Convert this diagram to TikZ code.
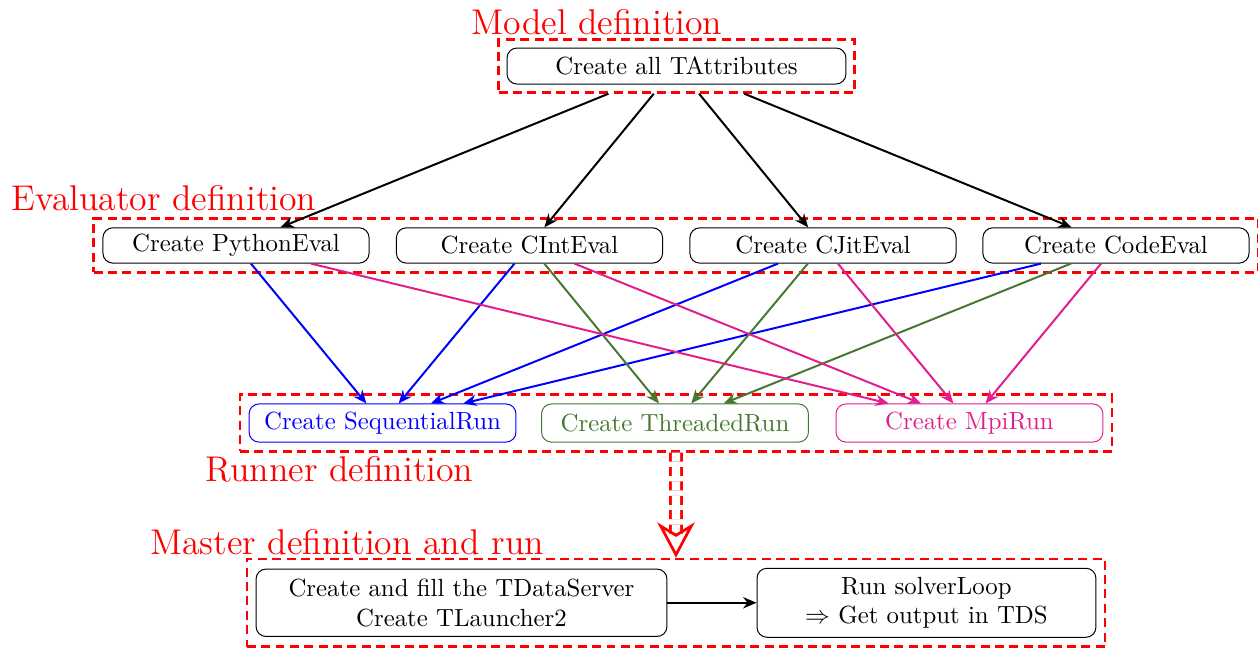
\documentclass[tikz,border=0pt]{standalone}
\usepackage{tikz}
\usetikzlibrary{positioning,arrows.meta,fit}
\definecolor{thrgreen}{RGB}{70,120,50}
\definecolor{mpipink}{RGB}{225,30,140}
\tikzset{
  evl/.style={draw,rounded corners,align=center,minimum width=3.77cm,minimum height=0.5cm,inner sep=2pt},
  rnr/.style={draw,rounded corners,align=center,minimum width=3.78cm,minimum height=0.54cm,inner sep=2pt},
  frm/.style={draw=red,line width=1pt,dash pattern=on 3.6pt off 2.2pt,inner sep=0.125cm},
  lbl/.style={text=red,font=\Large,anchor=base,inner sep=0pt},
  arr/.style={-{Stealth[length=1.9mm,width=1.6mm]},thick},
  dbl/.style={draw=red,line width=1.1pt,double=white,double distance=3.4pt,dash pattern=on 3.6pt off 2.2pt,
    -{Stealth[open,length=5mm,width=5.3mm,inset=1.6mm]}},
}
\begin{document}
\begin{tikzpicture}
  \useasboundingbox (0,0) rectangle (17.819,-9.193);
  % model
  \node[evl,minimum width=4.80cm,minimum height=0.51cm] (tattr) at (9.582,-0.935) {Create all TAttributes};
  \node[frm,inner sep=0.113cm,fit=(tattr)] (modelbox) {};
  \node[lbl] (modellbl) at (8.456,-0.482) {Model definition};
  % evaluators
  \node[evl] (py) at (3.343,-3.477) {Create PythonEval};
  \node[evl] (cint) at (7.500,-3.477) {Create CIntEval};
  \node[evl] (cjit) at (11.657,-3.477) {Create CJitEval};
  \node[evl] (code) at (15.807,-3.477) {Create CodeEval};
  \node[frm,fit=(py)(cint)(cjit)(code)] (evalbox) {};
  \node[lbl] (evallbl) at (2.323,-2.975) {Evaluator definition};
  % runners
  \node[rnr,draw=blue,text=blue] (seq) at (5.418,-5.992) {Create SequentialRun};
  \node[rnr,draw=thrgreen,text=thrgreen] (thr) at (9.561,-5.992) {Create ThreadedRun};
  \node[rnr,draw=mpipink,text=mpipink] (mpi) at (13.732,-5.992) {Create MpiRun};
  \node[frm,fit=(seq)(thr)(mpi)] (runbox) {};
  \node[lbl] (runlbl) at (4.809,-6.827) {Runner definition};
  % master
  \node[evl,minimum width=5.82cm,minimum height=0.955cm] (fill) at (6.537,-8.538) {Create and fill the TDataServer\\Create TLauncher2};
  \node[evl,minimum width=4.80cm,minimum height=0.977cm] (loop) at (13.123,-8.538) {Run solverLoop\\$\Rightarrow$ Get output in TDS};
  \node[frm,fit=(fill)(loop)] (masterbox) {};
  \node[lbl] (masterlbl) at (4.915,-7.861) {Master definition and run};
  % connections
  \foreach \e in {py,cint,cjit,code} \draw[arr] (modelbox) -- (\e);
  \foreach \e in {py,cint,cjit,code} \draw[arr,blue] (\e) -- (seq);
  \foreach \e in {cint,cjit,code} \draw[arr,thrgreen] (\e) -- (thr);
  \foreach \e in {py,cint,cjit,code} \draw[arr,mpipink] (\e) -- (mpi);
  \draw[dbl] (runbox.south) -- (masterbox.north);
  \draw[arr] (fill) -- (loop);
\end{tikzpicture}
\end{document}
